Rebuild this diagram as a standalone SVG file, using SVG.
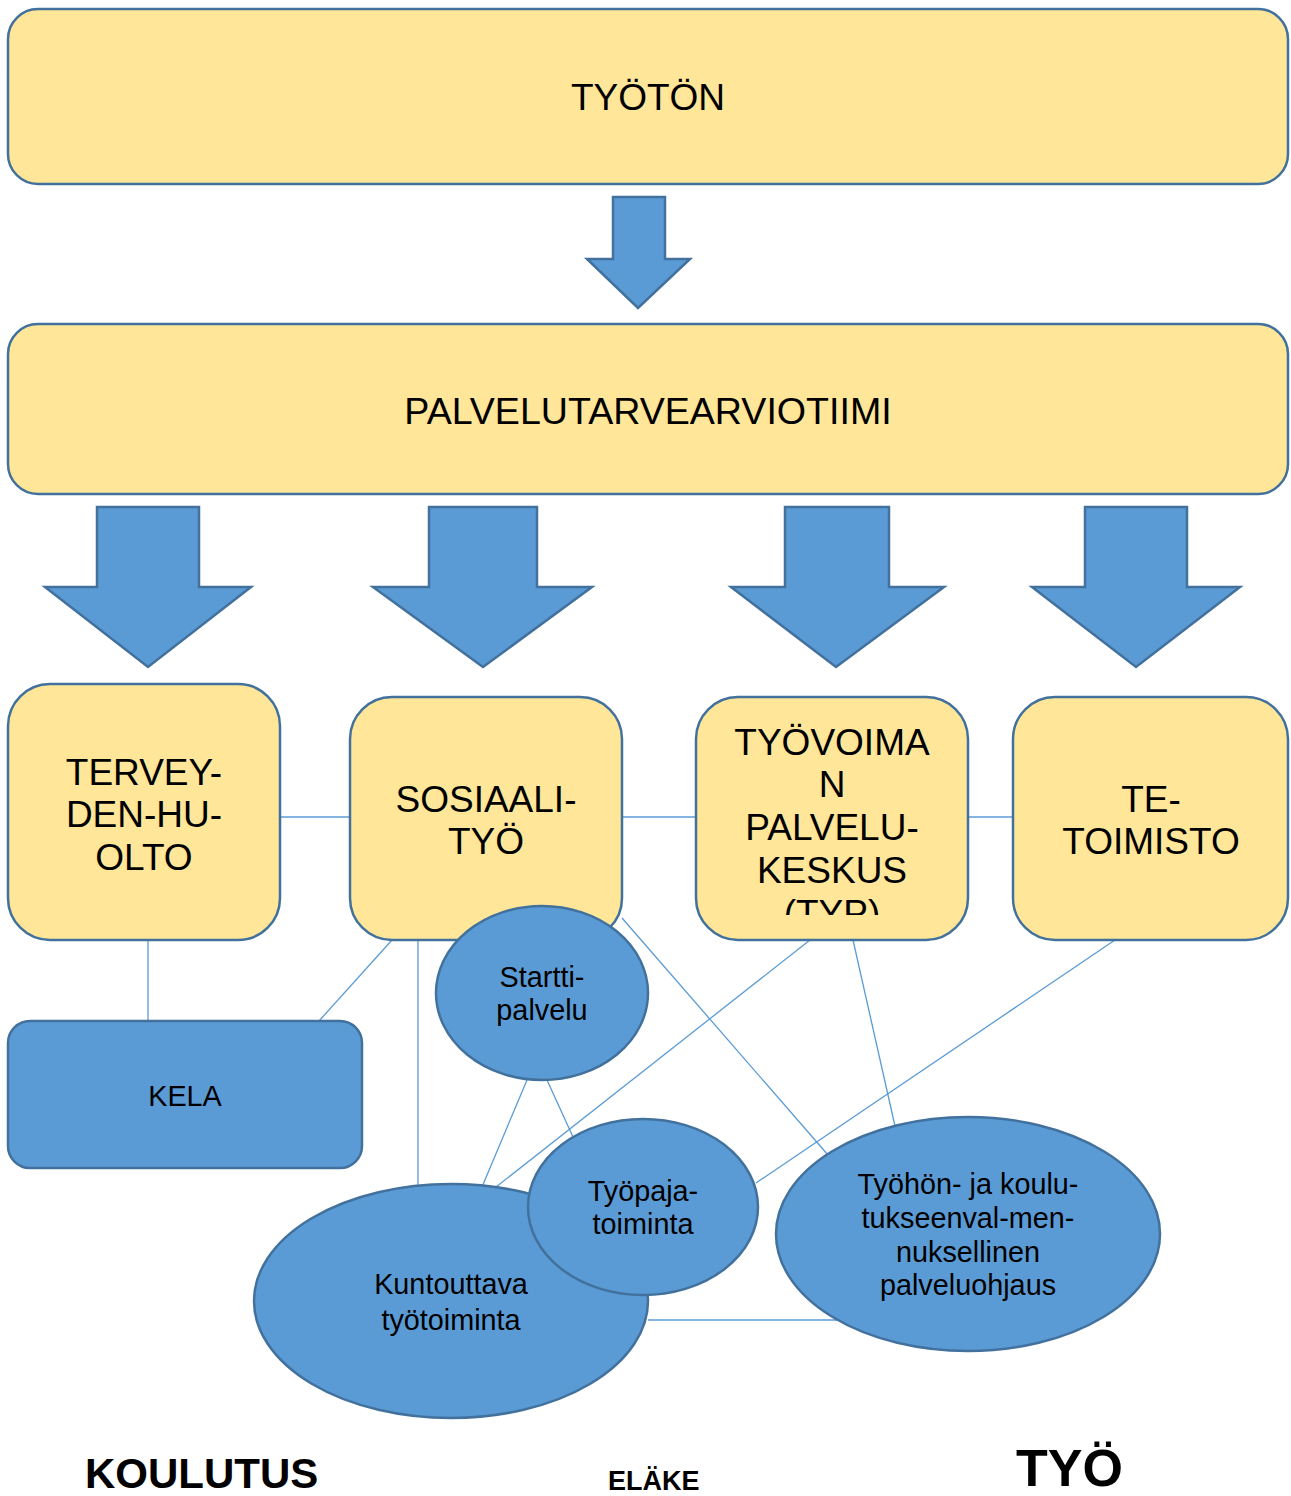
<svg xmlns="http://www.w3.org/2000/svg" width="1291" height="1496" viewBox="0 0 1291 1496">
<style>
.y{fill:#FFE699;stroke:#41719C;stroke-width:2.5}
.b{fill:#5B9BD5;stroke:#41719C;stroke-width:2.5}
.arr{fill:#5B9BD5;stroke:#41719C;stroke-width:2.5;stroke-linejoin:miter}
.t{font-family:"Liberation Sans",Arial,sans-serif;fill:#000;text-anchor:middle}
.big{font-size:37px}
.sm{font-size:28.8px}
.lab{font-family:"Liberation Sans",Arial,sans-serif;font-weight:bold;fill:#000}
#connectors line{stroke:#5B9BD5;stroke-width:1.3}
</style>
<defs>
<clipPath id="typclip"><rect x="696" y="697" width="272" height="218"/></clipPath>
</defs>
<g id="connectors">
<line x1="280" y1="817" x2="350" y2="817"/>
<line x1="622" y1="817" x2="696" y2="817"/>
<line x1="968" y1="817" x2="1013" y2="817"/>
<line x1="148" y1="940" x2="148" y2="1021"/>
<line x1="392" y1="940" x2="319" y2="1021"/>
<line x1="418" y1="940" x2="418" y2="1186"/>
<line x1="622" y1="918" x2="828" y2="1155"/>
<line x1="810" y1="940" x2="496" y2="1187"/>
<line x1="853" y1="940" x2="895" y2="1126"/>
<line x1="1115" y1="940" x2="756" y2="1183"/>
<line x1="527" y1="1080" x2="482" y2="1187"/>
<line x1="547" y1="1080" x2="573" y2="1137"/>
<line x1="648" y1="1320" x2="838" y2="1320"/>
</g>
<g id="arrows">
<polygon class="arr" points="613,197 665,197 665,259 690,259 638,308 587,259 613,259"/>
<polygon class="arr" points="97,507 199,507 199,587 251,587 148,667 45,587 97,587"/>
<polygon class="arr" points="429,507 537,507 537,587 592,587 483,667 373,587 429,587"/>
<polygon class="arr" points="785,507 889,507 889,587 944,587 836,667 731,587 785,587"/>
<polygon class="arr" points="1085,507 1187,507 1187,587 1240,587 1136,667 1032,587 1085,587"/>
</g>
<g id="tyoton">
<rect class="y" x="8" y="9" width="1280" height="175" rx="30"/>
<text class="t big" x="648" y="110">TYÖTÖN</text>
</g>
<g id="palvelutarvearviotiimi">
<rect class="y" x="8" y="324" width="1280" height="170" rx="30"/>
<text class="t" font-size="37.6" x="648" y="424">PALVELUTARVEARVIOTIIMI</text>
</g>
<g id="terveydenhuolto">
<rect class="y" x="8" y="684" width="272" height="256" rx="42"/>
<text class="t big" x="144" y="785">TERVEY-</text>
<text class="t big" x="144" y="827">DEN-HU-</text>
<text class="t big" x="144" y="870">OLTO</text>
</g>
<g id="sosiaalityo">
<rect class="y" x="350" y="697" width="272" height="243" rx="42"/>
<text class="t big" x="486" y="812">SOSIAALI-</text>
<text class="t big" x="486" y="854">TYÖ</text>
</g>
<g id="typ">
<rect class="y" x="696" y="697" width="272" height="243" rx="42"/>
<g clip-path="url(#typclip)">
<text class="t big" x="832" y="755">TYÖVOIMA</text>
<text class="t big" x="832" y="797">N</text>
<text class="t big" x="832" y="840">PALVELU-</text>
<text class="t big" x="832" y="883">KESKUS</text>
<text class="t big" x="832" y="926">(TYP)</text>
</g>
</g>
<g id="tetoimisto">
<rect class="y" x="1013" y="697" width="275" height="243" rx="42"/>
<text class="t big" x="1151" y="812">TE-</text>
<text class="t big" x="1151" y="854">TOIMISTO</text>
</g>
<g id="kela">
<rect class="b" x="8" y="1021" width="354" height="147" rx="22"/>
<text class="t sm" x="185" y="1106">KELA</text>
</g>
<g id="startti">
<ellipse class="b" cx="542" cy="993" rx="106" ry="87"/>
<text class="t sm" x="542" y="987">Startti-</text>
<text class="t sm" x="542" y="1020">palvelu</text>
</g>
<g id="kuntouttava">
<ellipse class="b" cx="451" cy="1301" rx="197" ry="117"/>
<text class="t sm" x="451" y="1294">Kuntouttava</text>
<text class="t sm" x="451" y="1330">työtoiminta</text>
</g>
<g id="tyopaja">
<ellipse class="b" cx="643" cy="1207" rx="115" ry="88"/>
<text class="t sm" x="643" y="1201">Työpaja-</text>
<text class="t sm" x="643" y="1234">toiminta</text>
</g>
<g id="tyohon">
<ellipse class="b" cx="968" cy="1234" rx="192" ry="117"/>
<text class="t sm" x="968" y="1194">Työhön- ja koulu-</text>
<text class="t sm" x="968" y="1228">tukseenval-men-</text>
<text class="t sm" x="968" y="1262">nuksellinen</text>
<text class="t sm" x="968" y="1295">palveluohjaus</text>
</g>
<g id="bottom-labels">
<text class="lab" x="85" y="1488" font-size="42">KOULUTUS</text>
<text class="lab" x="608" y="1490" font-size="27">ELÄKE</text>
<text class="lab" x="1016" y="1486" font-size="52">TYÖ</text>
</g>
</svg>
